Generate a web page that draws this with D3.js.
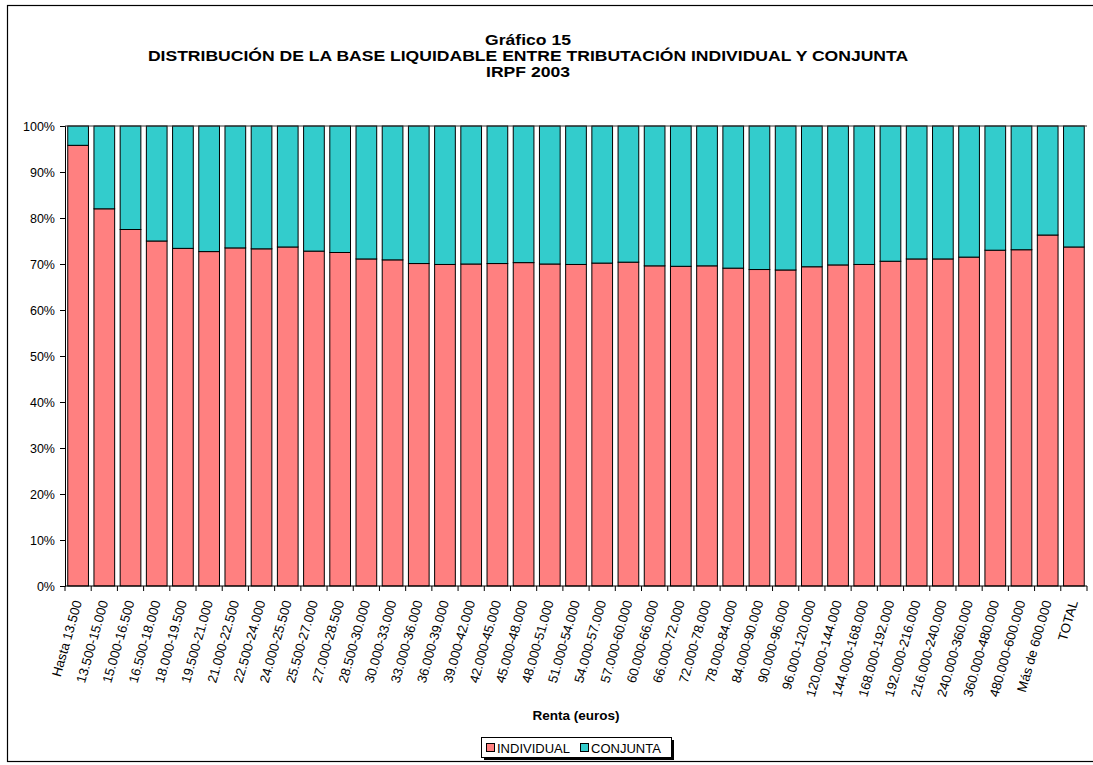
<!DOCTYPE html>
<html>
<head>
<meta charset="utf-8">
<script src="https://cdn.jsdelivr.net/npm/d3@7"></script>
<style>
  body { margin: 0; background: #fff; }
  svg { font-family: Arial, "Liberation Sans", Helvetica, sans-serif; }
</style>
</head>
<body>
<svg id="chart"></svg>
<script>
// categories (income brackets, euros)
const categories = [
  'Hasta 13.500', '13.500-15.000', '15.000-16.500', '16.500-18.000', '18.000-19.500',
  '19.500-21.000', '21.000-22.500', '22.500-24.000', '24.000-25.500', '25.500-27.000',
  '27.000-28.500', '28.500-30.000', '30.000-33.000', '33.000-36.000', '36.000-39.000',
  '39.000-42.000', '42.000-45.000', '45.000-48.000', '48.000-51.000', '51.000-54.000',
  '54.000-57.000', '57.000-60.000', '60.000-66.000', '66.000-72.000', '72.000-78.000',
  '78.000-84.000', '84.000-90.000', '90.000-96.000', '96.000-120.000', '120.000-144.000',
  '144.000-168.000', '168.000-192.000', '192.000-216.000', '216.000-240.000', '240.000-360.000',
  '360.000-480.000', '480.000-600.000', 'Más de 600.000', 'TOTAL'
];

// share of base liquidable under individual taxation (%)
const individual = [
  95.8, 82.0, 77.5, 75.0, 73.4, 72.7, 73.5, 73.3, 73.7, 72.8,
  72.5, 71.1, 70.9, 70.1, 69.9, 70.0, 70.1, 70.3, 70.0, 69.9,
  70.2, 70.4, 69.6, 69.5, 69.6, 69.1, 68.8, 68.7, 69.4, 69.8,
  69.9, 70.6, 71.1, 71.1, 71.5, 73.0, 73.1, 76.3, 73.7
];
// joint taxation is the remainder
const conjunta = individual.map(v => +(100 - v).toFixed(1));

const seriesNames = ['INDIVIDUAL', 'CONJUNTA'];
const colors = ['#FF8080', '#33CCCC'];
const yTicks = [0, 10, 20, 30, 40, 50, 60, 70, 80, 90, 100];

const titles = [
  'Gráfico 15',
  'DISTRIBUCIÓN DE LA BASE LIQUIDABLE ENTRE TRIBUTACIÓN INDIVIDUAL Y CONJUNTA',
  'IRPF 2003'
];

const W = 1093, H = 765;
const margin = {top: 126, right: 6, bottom: 179, left: 65};
const width = W - margin.left - margin.right;
const height = H - margin.top - margin.bottom;

const svg = d3.select('#chart')
  .attr('width', W)
  .attr('height', H);

// outer chart border (right edge runs off the picture)
svg.append('rect')
  .attr('x', 7.5).attr('y', 5.5)
  .attr('width', W + 20).attr('height', 756)
  .attr('fill', 'none')
  .attr('stroke', '#000')
  .attr('stroke-width', 1.2);

// titles: the original text is drawn a bit wider than Arial, so stretch it
const titleG = svg.append('g');
titleG.selectAll('.title')
  .data(titles)
  .join('text')
  .attr('class', 'title')
  .attr('x', 528)
  .attr('y', (d, i) => 45 + i * 16)
  .attr('text-anchor', 'middle')
  .style('font-size', '15px')
  .style('font-weight', 700)
  .text(d => d)
  .each(function() {
    const len = this.getComputedTextLength();
    d3.select(this)
      .attr('textLength', len * 1.17)
      .attr('lengthAdjust', 'spacingAndGlyphs');
  });

const chart = svg.append('g')
  .attr('transform', `translate(${margin.left},${margin.top})`);

const xScale = d3.scaleBand()
  .domain(categories)
  .range([0, width])
  .paddingInner(0.21)
  .paddingOuter(0.105);

const yScale = d3.scaleLinear()
  .domain([0, 100])
  .range([height, 0]);

const stack = d3.stack().keys(seriesNames);
const rows = categories.map((c, i) => ({cat: c, INDIVIDUAL: individual[i], CONJUNTA: conjunta[i]}));
const stacked = stack(rows);

chart.selectAll('.series')
  .data(stacked)
  .join('g')
  .attr('class', 'series')
  .attr('fill', (d, i) => colors[i])
  .selectAll('rect')
  .data(d => d)
  .join('rect')
  .attr('x', d => xScale(d.data.cat))
  .attr('y', d => yScale(d[1]))
  .attr('width', xScale.bandwidth())
  .attr('height', d => yScale(d[0]) - yScale(d[1]))
  .attr('stroke', '#000')
  .attr('stroke-width', 1);

// line along the top of the plot area
chart.append('line')
  .attr('x1', 0).attr('x2', width)
  .attr('y1', yScale(100)).attr('y2', yScale(100))
  .attr('stroke', '#333')
  .attr('stroke-width', 1);

// y axis
const yAxis = d3.axisLeft(yScale)
  .tickValues(yTicks)
  .tickFormat(d => d + '%')
  .tickSize(5)
  .tickPadding(5);

const yAxisG = chart.append('g')
  .attr('class', 'y-axis')
  .call(yAxis);
yAxisG.selectAll('text')
  .style('font-size', '12.5px')
  .style('font-family', 'Arial, "Liberation Sans", sans-serif')
  .attr('fill', '#000');
yAxisG.selectAll('line, path').attr('stroke', '#000');

// x axis: ticks at band boundaries, labels rotated
const step = xScale.step();
const xAxisG = chart.append('g')
  .attr('class', 'x-axis')
  .attr('transform', `translate(0,${height})`);

xAxisG.append('line')
  .attr('x1', 0).attr('x2', width)
  .attr('stroke', '#000');

xAxisG.selectAll('.tick-mark')
  .data(d3.range(categories.length + 1))
  .join('line')
  .attr('class', 'tick-mark')
  .attr('x1', i => i * step).attr('x2', i => i * step)
  .attr('y1', 0).attr('y2', 5)
  .attr('stroke', '#000');

xAxisG.selectAll('.x-label')
  .data(categories)
  .join('text')
  .attr('class', 'x-label')
  .attr('text-anchor', 'end')
  .attr('transform', d => `translate(${xScale(d) + xScale.bandwidth() / 2 + 4},16) rotate(-74)`)
  .style('font-size', '13.2px')
  .text(d => d);

// x axis title
svg.append('text')
  .attr('x', margin.left + width / 2)
  .attr('y', 720)
  .attr('text-anchor', 'middle')
  .style('font-size', '13.5px')
  .style('font-weight', 700)
  .text('Renta (euros)');

// legend
const legend = svg.append('g')
  .attr('transform', 'translate(481,737)');
legend.append('rect')
  .attr('x', 3).attr('y', 3)
  .attr('width', 190).attr('height', 20)
  .attr('fill', '#000');
legend.append('rect')
  .attr('x', 0.5).attr('y', 0.5)
  .attr('width', 190).attr('height', 20)
  .attr('fill', '#fff')
  .attr('stroke', '#000');

const legendX = [5, 99];
const items = legend.selectAll('.legend-item')
  .data(seriesNames)
  .join('g')
  .attr('class', 'legend-item')
  .attr('transform', (d, i) => `translate(${legendX[i]},0)`);
items.append('rect')
  .attr('x', 0.5).attr('y', 6.5)
  .attr('width', 8).attr('height', 8)
  .attr('fill', (d, i) => colors[i])
  .attr('stroke', '#000');
items.append('text')
  .attr('x', 11)
  .attr('y', 15.5)
  .style('font-size', '13px')
  .text(d => d);
</script>
</body>
</html>
